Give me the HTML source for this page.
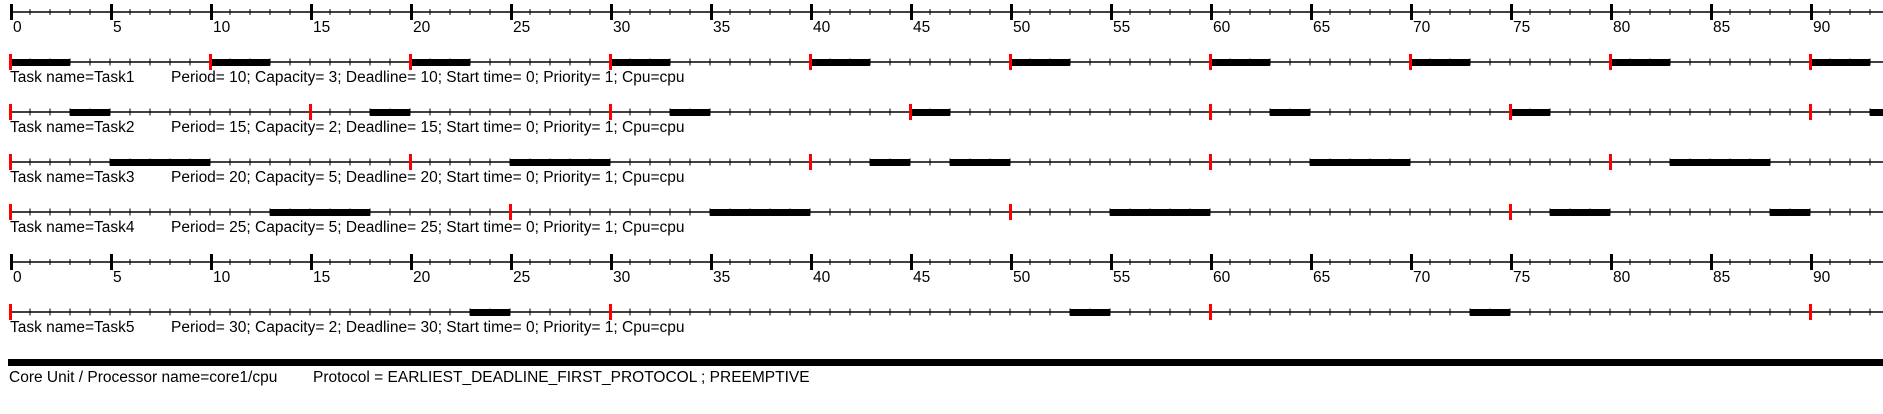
<!DOCTYPE html>
<html><head><meta charset="utf-8">
<style>
html,body{margin:0;padding:0;background:#fff;}
svg{display:block;}
text{font-family:"Liberation Sans",Arial,sans-serif;font-size:15.5px;fill:#000;}
</style></head>
<body>
<svg id="chart" width="1883" height="414" viewBox="0 0 1883 414" xmlns="http://www.w3.org/2000/svg"></svg>
<script>
const taskNames = ["Task1","Task2","Task3","Task4","Task5"];
const taskPeriods = [10,15,20,25,30];
const taskCapacities = [3,2,5,5,2];
const task1Slots = [[0,3],[10,13],[20,23],[30,33],[40,43],[50,53],[60,63],[70,73],[80,83],[90,93]];
const task2Slots = [[3,5],[18,20],[33,35],[45,47],[63,65],[75,77],[93,95]];
const task3Slots = [[5,10],[25,30],[43,45],[47,50],[65,70],[83,88]];
const task4Slots = [[13,18],[35,40],[55,60],[77,80],[88,90]];
const task5Slots = [[23,25],[53,55],[73,75]];
const axisTickLabels = [0,5,10,15,20,25,30,35,40,45,50,55,60,65,70,75,80,85,90];

const NS="http://www.w3.org/2000/svg";
const svg=document.getElementById('chart');
const X0=10, PX=20, W=1883, TMAX=94;
const xs=t=>X0+t*PX;
function mk(tag,attrs,parent){const e=document.createElementNS(NS,tag);for(const k in attrs)e.setAttribute(k,attrs[k]);(parent||svg).appendChild(e);return e;}

function drawAxis(y,name){
  const g=mk('g',{});
  
  
  mk('line',{x1:X0,y1:y,x2:W,y2:y,stroke:'#000','stroke-width':1.5},g);
  for(let t=0;t<=TMAX;t++){
    if(t%5===0){mk('rect',{x:xs(t),y:y-8,width:3,height:16,fill:'#000'},g);}
    else mk('line',{x1:xs(t),y1:y-3,x2:xs(t),y2:y+3,stroke:'#000','stroke-width':1},g);
  }
  axisTickLabels.forEach(v=>{
    const tx=mk('text',{x:xs(v)+3,y:y+20},g);
    
    
    tx.textContent=v;
  });
}
function drawTask(y,i,slots){
  const g=mk('g',{});
  
  
  mk('line',{x1:X0,y1:y,x2:W,y2:y,stroke:'#000','stroke-width':1.5},g);
  for(let t=1;t<=TMAX;t++) mk('line',{x1:xs(t),y1:y-3.5,x2:xs(t),y2:y+3.5,stroke:'#000','stroke-width':1},g);
  slots.forEach(s=>{
    const r=mk('rect',{x:xs(s[0]),y:y-3,width:(s[1]-s[0])*PX,height:7,fill:'#000'},g);
    
    
  });
  for(let t=0;t<=TMAX;t+=taskPeriods[i]){
    const r=mk('rect',{x:xs(t)-1,y:y-8,width:3,height:16,fill:'#ff0000'},g);
    
    
  }
  const l1=mk('text',{x:10,y:y+20},g);
  
  
  l1.textContent='Task name='+taskNames[i];
  const l2=mk('text',{x:171,y:y+20},g);
  
  
  l2.textContent='Period= '+taskPeriods[i]+'; Capacity= '+taskCapacities[i]+'; Deadline= '+taskPeriods[i]+'; Start time= 0; Priority= 1; Cpu=cpu';
}
drawAxis(12,'time-axis-top');
drawTask(62,0,task1Slots);
drawTask(112,1,task2Slots);
drawTask(162,2,task3Slots);
drawTask(212,3,task4Slots);
drawAxis(262,'time-axis-bottom');
drawTask(312,4,task5Slots);

const core=mk('rect',{x:8,y:359,width:W-8,height:7,fill:'#000'});


const c1=mk('text',{x:9,y:382});


c1.textContent='Core Unit / Processor name=core1/cpu';
const c2=mk('text',{x:313,y:382});


c2.textContent='Protocol = EARLIEST_DEADLINE_FIRST_PROTOCOL ; PREEMPTIVE';
</script>
</body></html>
